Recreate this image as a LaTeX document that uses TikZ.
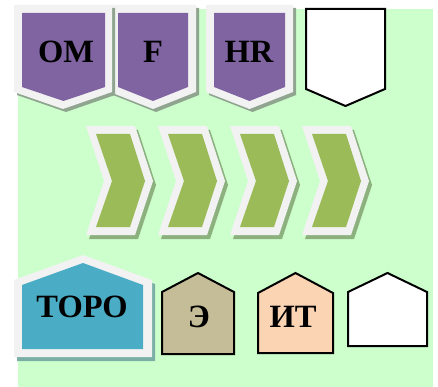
\documentclass[tikz,border=0pt]{standalone}
\usepackage{fontspec}
\setmainfont{Liberation Serif}
\definecolor{bggreen}{HTML}{CCFFCC}
\definecolor{rim}{HTML}{F2F2F2}
\definecolor{purp}{HTML}{8064A2}
\definecolor{olive}{HTML}{9BBB59}
\definecolor{tealblue}{HTML}{4BACC6}
\definecolor{tanfill}{HTML}{C4BD97}
\definecolor{peach}{HTML}{FBD4B4}
\definecolor{shadowgray}{HTML}{8FA58F}
\definecolor{shadowteal}{HTML}{7BAFA6}
\definecolor{shadowgreen}{HTML}{8DB07F}
\tikzset{
  lbl/.style={font=\fontsize{32.5}{32.5}\selectfont\bfseries, inner sep=0pt},
  outline/.style={draw=black, line width=2pt, line join=miter},
}
% down-pointing banner: #1 outer left, #2 outer right, #3 inner left, #4 inner right, #5 fill colour
\newcommand\banner[5]{%
  \fill[shadowgray] ({#1+3},8) -- ({#2+3},8) -- ({#2+3},95) -- ({(#1+#2)/2+3},112) -- ({#1+3},95) -- cycle;
  \fill[rim] (#1,5) -- (#2,5) -- (#2,92) -- ({(#1+#2)/2},109) -- (#1,92) -- cycle;
  \fill[#5] (#3,13) -- (#4,13) -- (#4,87) -- ({(#3+#4)/2},101) -- (#3,87) -- cycle;
}
% chevron with rim and shadow, #1 = outer left edge at the top
\newcommand\chevron[1]{%
  \fill[shadowgreen] ({#1+3},130) -- ({#1+52},130) -- ({#1+70},185) -- ({#1+52},239) -- ({#1+3},239) -- ({#1+21},185) -- cycle;
  \fill[rim] (#1,126) -- ({#1+49},126) -- ({#1+67},181) -- ({#1+49},235) -- (#1,235) -- ({#1+18},181) -- cycle;
  \fill[olive] ({#1+10},134) -- ({#1+44},134) -- ({#1+59},181) -- ({#1+44},227) -- ({#1+10},227) -- ({#1+26},181) -- cycle;
}
% up-pointing house with black outline: left, right, peak y, shoulder y, bottom y, fill
\newcommand\house[6]{%
  \filldraw[outline, fill=#6] (#1,#5) -- (#1,#4) -- ({(#1+#2)/2},#3) -- (#2,#4) -- (#2,#5) -- cycle;
}
\begin{document}
\begin{tikzpicture}[x=1pt, y=-1pt]
  \useasboundingbox (0,0) rectangle (438,387);
  % background panel
  \fill[bggreen] (18,9) rectangle (433,387);

  % top row of banners
  \banner{110}{196}{118}{188}{purp}
  \banner{14}{112}{22}{105}{purp}
  \banner{206}{293}{214}{285}{purp}
  \filldraw[outline, fill=white] (306,9) -- (385,9) -- (385,89) -- (345.5,106) -- (306,89) -- cycle;
  \node[lbl] (om) at (66,52) {OM};
  \node[lbl] (f) at (153,52) {F};
  \node[lbl] (hr) at (249,52) {HR};

  % middle row of chevrons
  \chevron{86}
  \chevron{158}
  \chevron{230}
  \chevron{302}

  % bottom row of houses
  \fill[shadowteal] (17,284) -- (86,259) -- (155,284) -- (155,361) -- (17,361) -- cycle;
  \fill[rim] (14,280) -- (83,255) -- (152,280) -- (152,357) -- (14,357) -- cycle;
  \fill[tealblue] (22,285) -- (83,263) -- (143,285) -- (143,349) -- (22,349) -- cycle;
  \house{162}{234}{273}{292}{354}{tanfill}
  \house{258}{333}{273}{293}{353}{peach}
  \house{348}{427}{273}{292}{346}{white}
  \node[lbl] (toro) at (82,307) {ТОРО};
  \node[lbl] (e) at (199,317) {Э};
  \node[lbl] (it) at (293,317) {ИТ};
\end{tikzpicture}
\end{document}
